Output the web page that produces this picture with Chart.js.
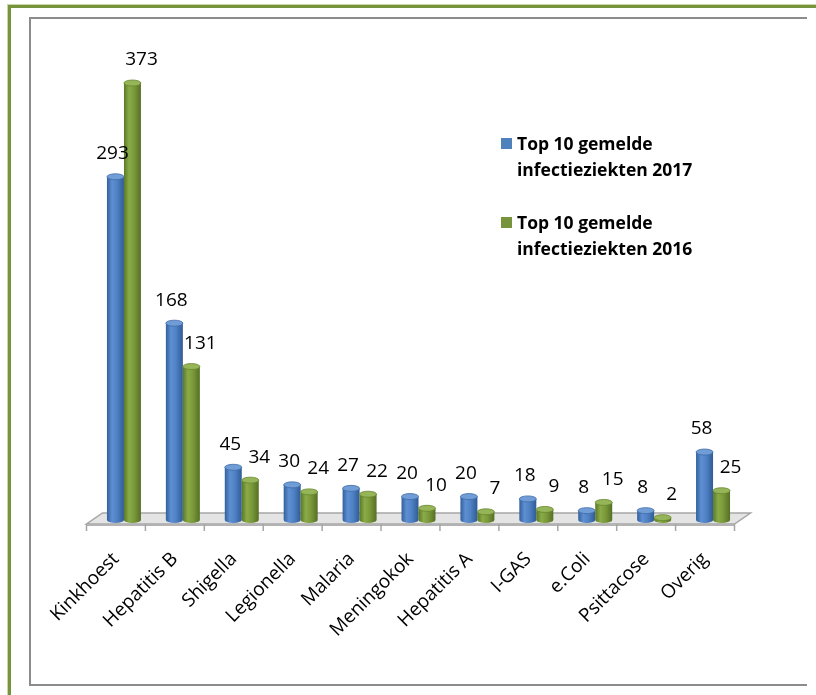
<!DOCTYPE html>
<html>
<head>
<meta charset="utf-8">
<script src="https://cdn.jsdelivr.net/npm/chart.js@4/dist/chart.umd.min.js"></script>
<style>
  html, body { margin: 0; padding: 0; background: #fff; overflow: hidden; }
  #page { position: relative; width: 816px; height: 695px; overflow: hidden; }
  #outer { position: absolute; left: 8px; top: 5px; width: 900px; height: 800px;
           border: 3px solid #77933c; box-shadow: 0 0 0 1px #c9d9a6; }
  .frame { position: absolute; background: #8c8c8c; z-index: 2; }
  #wrap { position: absolute; left: 0; top: 0; width: 816px; height: 695px; }
  #legend { position: absolute; left: 501px; top: 130px; font: bold 17.5px "Open Sans", sans-serif; color: #000; }
  .lg-item { display: flex; align-items: flex-start; margin-bottom: 27px; }
  .lg-box { width: 11px; height: 11px; margin-top: 8px; margin-right: 5px; flex: none; }
  .lg-text { width: 200px; line-height: 26px; }
</style>
</head>
<body>
<div id="page">
  <div id="outer"></div>
  <div id="wrap"><canvas id="chart" width="816" height="695"></canvas></div>
  <div class="frame" style="left:29px; top:17px; width:778px; height:2px;"></div>
  <div class="frame" style="left:29px; top:17px; width:2px; height:669px;"></div>
  <div class="frame" style="left:29px; top:684px; width:778px; height:2px;"></div>
  <div id="legend"></div>
</div>
<script>
/* ── Data ─────────────────────────────────────────────────────────────── */
const categories  = ['Kinkhoest', 'Hepatitis B', 'Shigella', 'Legionella', 'Malaria',
                     'Meningokok', 'Hepatitis A', 'I-GAS', 'e.Coli', 'Psittacose', 'Overig'];
const values2017  = [293, 168, 45, 30, 27, 20, 20, 18, 8, 8, 58];
const values2016  = [373, 131, 34, 24, 22, 10, 7, 9, 15, 2, 25];
const seriesNames = ['Top 10 gemelde infectieziekten 2017', 'Top 10 gemelde infectieziekten 2016'];
const yMax = 400;

/* ── Cylinder shading per series ──────────────────────────────────────── */
const shades = [
  { key: '#4f81bd', stops: ['#32609c', '#5e8fd3', '#4f81c4', '#305c96'], top: '#719dd6', rim: '#3d6ba8', dx: -3 },
  { key: '#77933c', stops: ['#5b7827', '#8aab47', '#7a993a', '#566f24'], top: '#95b558', rim: '#66852c', dx: 9 },
];

function drawCylinder(ctx, bar, s) {
  const { x, y, base, width } = bar.getProps(['x', 'y', 'base', 'width'], true);
  const left = x - width / 2, right = x + width / 2;
  const rx = width / 2, ry = 3;
  const g = ctx.createLinearGradient(left, 0, right, 0);
  g.addColorStop(0, s.stops[0]);
  g.addColorStop(0.3, s.stops[1]);
  g.addColorStop(0.6, s.stops[2]);
  g.addColorStop(1, s.stops[3]);
  ctx.fillStyle = g;
  ctx.beginPath();
  ctx.moveTo(left, y);
  ctx.lineTo(left, base);
  ctx.ellipse(x, base, rx, ry, 0, Math.PI, 0, true);
  ctx.lineTo(right, y);
  ctx.closePath();
  ctx.fill();
  // top cap
  ctx.beginPath();
  ctx.ellipse(x, y, rx, ry, 0, 0, Math.PI * 2);
  ctx.fillStyle = s.top;
  ctx.fill();
  ctx.strokeStyle = s.rim;
  ctx.lineWidth = 0.8;
  ctx.stroke();
}

/* ── Plugin: 3D floor, cylinders, value labels ────────────────────────── */
const cylinderPlugin = {
  id: 'cylinderPlugin',
  beforeDatasetsDraw(chart) {
    const { ctx, chartArea } = chart;
    const base = chart.scales.y.getPixelForValue(0);
    const L = chartArea.left, R = chartArea.right;
    const catW = (R - L) / categories.length;
    const fy = base + 4, by = base - 7;
    ctx.save();
    // floor
    ctx.beginPath();
    ctx.moveTo(L - 8, fy);
    ctx.lineTo(R - 8, fy);
    ctx.lineTo(R + 8, by);
    ctx.lineTo(L + 8, by);
    ctx.closePath();
    ctx.fillStyle = '#e4e4e4';
    ctx.fill();
    ctx.strokeStyle = '#a6a6a6';
    ctx.lineWidth = 1.5;
    ctx.stroke();
    // front edge thickness
    ctx.fillStyle = '#b3b3b3';
    ctx.fillRect(L - 8, fy, R - L, 2);
    // tick marks on the front edge
    ctx.strokeStyle = '#a6a6a6';
    ctx.lineWidth = 1.5;
    for (let i = 0; i <= categories.length; i++) {
      const tx = L - 8 + i * catW;
      ctx.beginPath();
      ctx.moveTo(tx, fy);
      ctx.lineTo(tx, fy + 7);
      ctx.stroke();
    }
    ctx.restore();
  },
  beforeDatasetDraw() {
    return false;
  },
  afterDatasetsDraw(chart) {
    const ctx = chart.ctx;
    ctx.save();
    const metas = chart.data.datasets.map((d, i) => chart.getDatasetMeta(i));
    categories.forEach((c, idx) => {
      metas.forEach((m, si) => drawCylinder(ctx, m.data[idx], shades[si]));
    });
    ctx.font = '19px "Open Sans", sans-serif';
    ctx.fillStyle = '#000';
    ctx.textAlign = 'center';
    ctx.textBaseline = 'middle';
    metas.forEach((m, si) => {
      m.data.forEach((bar, idx) => {
        const val = chart.data.datasets[si].data[idx];
        ctx.fillText(String(val), bar.x + shades[si].dx, bar.y - 23);
      });
    });
    ctx.restore();
  }
};

/* ── Chart ────────────────────────────────────────────────────────────── */
const chart = new Chart(document.getElementById('chart'), {
  type: 'bar',
  data: {
    labels: categories,
    datasets: [
      { label: seriesNames[0], data: values2017, backgroundColor: shades[0].key },
      { label: seriesNames[1], data: values2016, backgroundColor: shades[1].key },
    ]
  },
  options: {
    responsive: false,
    animation: false,
    devicePixelRatio: 1,
    categoryPercentage: 0.577,
    barPercentage: 1,
    layout: { padding: { left: 94.5, right: 73.5, top: 51.4, bottom: 0 } },
    plugins: {
      legend: { display: false },
      tooltip: { enabled: false },
    },
    scales: {
      x: {
        grid: { display: false, drawTicks: false },
        border: { display: false },
        ticks: {
          autoSkip: false,
          minRotation: 45,
          maxRotation: 45,
          labelOffset: -8,
          padding: 28,
          color: '#000',
          font: { family: 'Open Sans', size: 19 },
        },
        afterFit(scale) { scale.height = 175; }
      },
      y: { display: false, min: 0, max: yMax }
    }
  },
  plugins: [cylinderPlugin]
});

/* ── HTML legend (two-line entries) ───────────────────────────────────── */
document.getElementById('legend').innerHTML = chart.data.datasets.map(d => `
  <div class="lg-item">
    <div class="lg-box" style="background:${d.backgroundColor}"></div>
    <div class="lg-text">${d.label}</div>
  </div>`).join('');
</script>
</body>
</html>
